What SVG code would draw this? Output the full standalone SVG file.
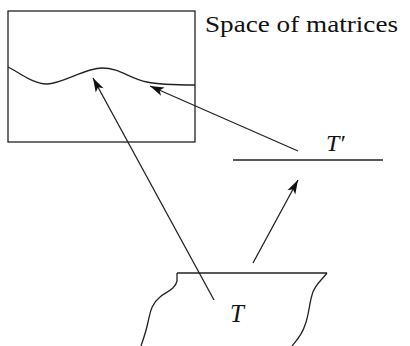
<svg xmlns="http://www.w3.org/2000/svg" width="410" height="346" viewBox="0 0 410 346">
<style>
.ln{fill:none;stroke:#222;stroke-width:1.3;stroke-linecap:butt}
.tx{fill:#111}
</style>
<defs>
<marker id="ah" markerUnits="userSpaceOnUse" viewBox="-15 -6 17 12" refX="0" refY="0" markerWidth="17" markerHeight="12" orient="auto">
<path d="M0,0 L-14,-4.5 L-10.5,0 L-14,4.5 Z" fill="#111"/>
</marker>
</defs>
<rect width="410" height="346" fill="#fff"/>
<g id="space">
<rect x="8" y="11" width="187" height="131" class="ln"/>
<path class="ln" d="M8,67 C20,73 33,84 47,84 C62,84 85,68 102,68 C120,68 130,79 147,82 C160,85 175,85 195,85"/>
<text class="tx" x="205" y="32" font-family="'Liberation Serif', 'Times New Roman', serif" font-size="24" textLength="193" lengthAdjust="spacingAndGlyphs">Space of matrices</text>
</g>
<g id="tprime">
<line class="ln" x1="233" y1="160" x2="383" y2="160"/>
<text class="tx" x="326" y="151" font-family="'Liberation Serif', 'Times New Roman', serif" font-style="italic" font-size="24">T′</text>
</g>
<g id="t">
<path class="ln" d="M177,273 L327,273"/>
<path class="ln" d="M177,273 L177,281 C175,290 165,292 160,297 C150,305 150,315 148,322 C146,332 143,340 141,346"/>
<path class="ln" d="M327,273 C322,280 314,285 312,295 C309,305 309,315 305,325 C302,335 297,340 292,346"/>
<text class="tx" x="230" y="322" font-family="'Liberation Serif', 'Times New Roman', serif" font-style="italic" font-size="25">T</text>
</g>
<g id="connectors">
<line class="ln" x1="214" y1="300" x2="93" y2="78" marker-end="url(#ah)"/>
<line class="ln" x1="298" y1="151" x2="150" y2="86" marker-end="url(#ah)"/>
<line class="ln" x1="253" y1="263" x2="298" y2="180" marker-end="url(#ah)"/>
</g>
</svg>
